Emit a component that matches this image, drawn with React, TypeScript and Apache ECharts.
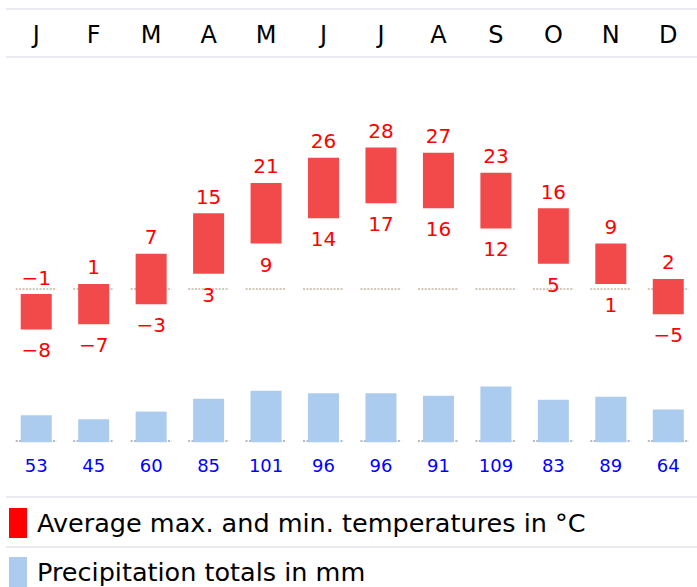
import React, { useEffect, useRef } from "react";
import * as echarts from "echarts";

const months = ["J", "F", "M", "A", "M", "J", "J", "A", "S", "O", "N", "D"];
const tempMax = [-1, 1, 7, 15, 21, 26, 28, 27, 23, 16, 9, 2];
const tempMin = [-8, -7, -3, 3, 9, 14, 17, 16, 12, 5, 1, -5];
const precip = [53, 45, 60, 85, 101, 96, 96, 91, 109, 83, 89, 64];
const legendNames = ["Average max. and min. temperatures in °C", "Precipitation totals in mm"];
const legendColors = ["#ff0000", "#abccee"];

const FONT = "DejaVu Sans";
const fmt = (v: number) => (v < 0 ? "\u2212" + Math.abs(v) : String(v));

export default function App() {
  const ref = useRef<HTMLDivElement>(null);
  useEffect(() => {
    if (!ref.current) return;
    const chart = echarts.init(ref.current, null, { renderer: "svg" });
    const sepLine = (y: number) => ({
      type: "line",
      shape: { x1: 6, y1: y, x2: 697, y2: y },
      style: { stroke: "#eaeaf0", lineWidth: 2 },
      silent: true,
    });
    const legendItems: any[] = [];
    legendNames.forEach((n, k) => {
      const y0 = 508 + k * 49;
      legendItems.push({
        type: "rect",
        shape: { x: 9, y: y0, width: 18, height: 30 },
        style: { fill: legendColors[k] },
        silent: true,
      });
      legendItems.push({
        type: "text",
        x: 37,
        y: y0 + 15,
        style: {
          text: n,
          fontSize: 25.5,
          fontFamily: FONT,
          fill: "#000",
          align: "left",
          verticalAlign: "middle",
        },
        silent: true,
      });
    });
    chart.setOption({
      animation: false,
      grid: [
        { left: 7.5, top: 137.5, width: 696, height: 202 },
        { left: 7.5, top: 381, width: 696, height: 61.2 },
      ],
      xAxis: [
        {
          type: "category",
          gridIndex: 0,
          data: months,
          position: "top",
          axisLine: { show: false },
          axisTick: { show: false },
          splitLine: { show: false },
          axisLabel: {
            margin: 102.5,
            fontSize: 24,
            color: "#000",
            fontFamily: FONT,
            verticalAlign: "middle",
            interval: 0,
          },
        },
        {
          type: "category",
          gridIndex: 1,
          data: months,
          show: false,
        },
      ],
      yAxis: [
        { type: "value", gridIndex: 0, min: -10, max: 30, show: false },
        { type: "value", gridIndex: 1, min: 0, max: 120, show: false },
      ],
      graphic: [sepLine(9), sepLine(57), sepLine(497), sepLine(547), ...legendItems],
      series: [
        {
          name: legendNames[0],
          type: "custom",
          xAxisIndex: 0,
          yAxisIndex: 0,
          itemStyle: { color: legendColors[0] },
          data: months.map((_, i) => [i, tempMin[i], tempMax[i]]),
          encode: { x: 0, y: [1, 2] },
          renderItem: (params: any, api: any) => {
            const i = api.value(0);
            const lo = api.coord([i, api.value(1)]);
            const hi = api.coord([i, api.value(2)]);
            const z = api.coord([i, 0]);
            return {
              type: "group",
              children: [
                {
                  type: "line",
                  shape: { x1: z[0] - 20.5, y1: z[1], x2: z[0] + 20.5, y2: z[1] },
                  style: { stroke: "#d3c7b8", lineWidth: 2, lineDash: [2, 1.4] },
                },
                {
                  type: "rect",
                  shape: { x: hi[0] - 15.5, y: hi[1], width: 31, height: lo[1] - hi[1] },
                  style: { fill: "#f24a4a" },
                },
                {
                  type: "text",
                  x: hi[0],
                  y: hi[1] - 16.5,
                  style: {
                    text: fmt(api.value(2)),
                    fontSize: 20,
                    fontFamily: FONT,
                    fill: "#ff0000",
                    align: "center",
                    verticalAlign: "middle",
                  },
                },
                {
                  type: "text",
                  x: lo[0],
                  y: lo[1] + 21,
                  style: {
                    text: fmt(api.value(1)),
                    fontSize: 20,
                    fontFamily: FONT,
                    fill: "#ff0000",
                    align: "center",
                    verticalAlign: "middle",
                  },
                },
              ],
            };
          },
        },
        {
          name: legendNames[1],
          type: "custom",
          xAxisIndex: 1,
          yAxisIndex: 1,
          itemStyle: { color: legendColors[1] },
          data: months.map((_, i) => [i, precip[i]]),
          encode: { x: 0, y: 1 },
          renderItem: (params: any, api: any) => {
            const i = api.value(0);
            const top = api.coord([i, api.value(1)]);
            const base = api.coord([i, 0]);
            return {
              type: "group",
              children: [
                {
                  type: "line",
                  shape: { x1: base[0] - 20.5, y1: base[1] - 1.2, x2: base[0] + 20.5, y2: base[1] - 1.2 },
                  style: { stroke: "#b8b8c0", lineWidth: 2, lineDash: [2, 1.4] },
                },
                {
                  type: "rect",
                  shape: { x: top[0] - 15.5, y: top[1], width: 31, height: base[1] - top[1] },
                  style: { fill: "#abccee" },
                },
                {
                  type: "text",
                  x: base[0],
                  y: base[1] + 23,
                  style: {
                    text: String(api.value(1)),
                    fontSize: 18,
                    fontFamily: FONT,
                    fill: "#0000ff",
                    align: "center",
                    verticalAlign: "middle",
                  },
                },
              ],
            };
          },
        },
      ],
    });
    return () => chart.dispose();
  }, []);
  return (
    <div
      ref={ref}
      style={{ position: "absolute", left: 0, top: 0, width: 697, height: 587 }}
    />
  );
}
